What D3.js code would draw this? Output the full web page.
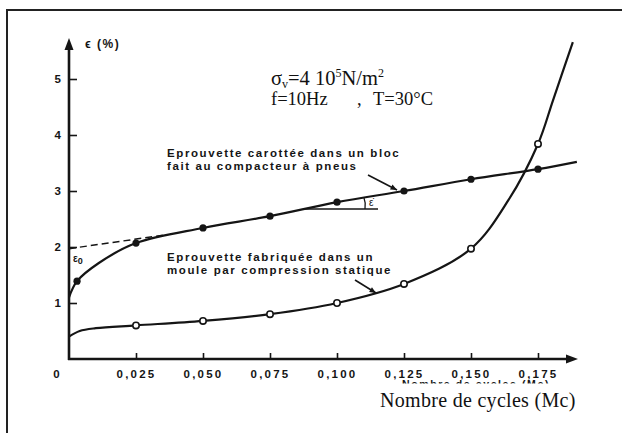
<!DOCTYPE html>
<html>
<head>
<meta charset="utf-8">
<script src="https://cdn.jsdelivr.net/npm/d3@7"></script>
<style>
  body { margin: 0; background: #fff; }
  svg { display: block; }
  .tick text { font-family: "Liberation Sans", Arial, sans-serif; font-weight: bold; font-size: 11.5px; fill: #151515; }
  .note { font-family: "Liberation Sans", Arial, sans-serif; font-weight: bold; font-size: 12px; fill: #151515; }
  .serif { font-family: "Liberation Serif", "Times New Roman", serif; fill: #111; }
</style>
</head>
<body>
<div id="chart"></div>
<script>
// x = nombre de cycles (Mc), y = deformation (%)
const xTicks = [0, 0.025, 0.05, 0.075, 0.1, 0.125, 0.15, 0.175];
const xTickLabels = ["0", "0,025", "0,050", "0,075", "0,100", "0,125", "0,150", "0,175"];
const yTicks = [1, 2, 3, 4, 5];

// eprouvette carottee (points pleins)
const carotteeCurveX = [0, 0.003, 0.011, 0.025, 0.05, 0.075, 0.1, 0.125, 0.15, 0.175, 0.1895];
const carotteeCurveY = [1.1, 1.39, 1.71, 2.07, 2.34, 2.55, 2.8, 3.0, 3.21, 3.39, 3.52];
const carotteeDotsX = [0.003, 0.025, 0.05, 0.075, 0.1, 0.125, 0.15, 0.175];
const carotteeDotsY = [1.39, 2.07, 2.34, 2.55, 2.8, 3.0, 3.21, 3.39];

// eprouvette fabriquee (points creux)
const fabriqueeCurveX = [0, 0.004, 0.01, 0.025, 0.05, 0.075, 0.1, 0.125, 0.15, 0.164, 0.175, 0.1806, 0.188];
const fabriqueeCurveY = [0.4, 0.5, 0.55, 0.6, 0.68, 0.8, 1.0, 1.34, 1.97, 2.84, 3.84, 4.62, 5.66];
const fabriqueeDotsX = [0.025, 0.05, 0.075, 0.1, 0.125, 0.15, 0.175];
const fabriqueeDotsY = [0.6, 0.68, 0.8, 1.0, 1.34, 1.97, 3.84];

// tangente en pointilles (epsilon0)
const dashX = [0, 0.035];
const dashY = [1.97, 2.21];

const W = 622, H = 433;
const svg = d3.select("#chart").append("svg").attr("width", W).attr("height", H);

// cadre
svg.append("rect")
  .attr("x", 7).attr("y", 10).attr("width", 700).attr("height", 500)
  .attr("fill", "none").attr("stroke", "#222").attr("stroke-width", 2);

const x = d3.scaleLinear().domain([0, 0.175]).range([69, 538]);
const y = d3.scaleLinear().domain([0, 5]).range([359, 79]);

const ink = "#151515";

// axe y
const yAxis = svg.append("g")
  .attr("transform", `translate(${x(0)},0)`)
  .call(d3.axisLeft(y).tickValues(yTicks).tickSizeInner(-8).tickSizeOuter(0).tickPadding(8).tickFormat(d3.format("d")));
yAxis.select(".domain").remove();
yAxis.selectAll(".tick line").attr("stroke", ink).attr("stroke-width", 1.6);

svg.append("line")
  .attr("x1", x(0)).attr("x2", x(0)).attr("y1", y(0) + 1).attr("y2", 46)
  .attr("stroke", ink).attr("stroke-width", 2.6);
svg.append("path")
  .attr("d", `M${x(0)},38 L${x(0) - 4.5},50 L${x(0) + 4.5},50 Z`)
  .attr("fill", ink);

// axe x
const xAxis = svg.append("g")
  .attr("transform", `translate(0,${y(0)})`)
  .call(d3.axisBottom(x).tickValues(xTicks).tickSizeInner(-6).tickSizeOuter(0).tickPadding(11)
    .tickFormat((d, i) => xTickLabels[i]));
xAxis.select(".domain").remove();
xAxis.selectAll(".tick line").attr("stroke", ink).attr("stroke-width", 1.6);
xAxis.selectAll(".tick text").attr("letter-spacing", "2.2px");
xAxis.selectAll(".tick").filter(d => d === 0).select("line").remove();
xAxis.selectAll(".tick").filter(d => d === 0).select("text").attr("x", -12);

svg.append("line")
  .attr("x1", x(0) - 1).attr("x2", 570).attr("y1", y(0)).attr("y2", y(0))
  .attr("stroke", ink).attr("stroke-width", 2.6);
svg.append("path")
  .attr("d", `M578,${y(0)} L566,${y(0) - 4.5} L566,${y(0) + 4.5} Z`)
  .attr("fill", ink);

// courbes
const line = d3.line().x(d => x(d[0])).y(d => y(d[1])).curve(d3.curveCatmullRom.alpha(0.5));

svg.append("path")
  .datum(carotteeCurveX.map((v, i) => [v, carotteeCurveY[i]]))
  .attr("d", line).attr("fill", "none").attr("stroke", ink).attr("stroke-width", 2.2);

svg.append("path")
  .datum(fabriqueeCurveX.map((v, i) => [v, fabriqueeCurveY[i]]))
  .attr("d", line).attr("fill", "none").attr("stroke", ink).attr("stroke-width", 2.2);

svg.append("path")
  .datum(dashX.map((v, i) => [v, dashY[i]]))
  .attr("d", d3.line().x(d => x(d[0])).y(d => y(d[1])))
  .attr("fill", "none").attr("stroke", ink).attr("stroke-width", 1.5)
  .attr("stroke-dasharray", "7,4");

svg.selectAll(".dot-full")
  .data(carotteeDotsX.map((v, i) => [v, carotteeDotsY[i]]))
  .enter().append("circle")
  .attr("class", "dot-full")
  .attr("cx", d => x(d[0])).attr("cy", d => y(d[1])).attr("r", 3.6)
  .attr("fill", ink);

svg.selectAll(".dot-open")
  .data(fabriqueeDotsX.map((v, i) => [v, fabriqueeDotsY[i]]))
  .enter().append("circle")
  .attr("class", "dot-open")
  .attr("cx", d => x(d[0])).attr("cy", d => y(d[1])).attr("r", 3.2)
  .attr("fill", "#fff").attr("stroke", ink).attr("stroke-width", 1.6);

// pente
svg.append("line")
  .attr("x1", 305).attr("x2", 378).attr("y1", 209).attr("y2", 209)
  .attr("stroke", ink).attr("stroke-width", 1.3);
svg.append("path")
  .attr("d", "M365,209 Q366,203 364,198")
  .attr("fill", "none").attr("stroke", ink).attr("stroke-width", 1.3);
svg.append("text").attr("class", "note").attr("x", 369).attr("y", 206)
  .style("font-size", "10px").style("font-weight", "normal").text("ε̇");

svg.append("text").attr("class", "note").attr("x", 73).attr("y", 262)
  .style("font-size", "10px").html("ε<tspan dy='2' font-size='9px'>0</tspan>");

// titre axe y
svg.append("text").attr("class", "note").attr("x", 85).attr("y", 48)
  .attr("letter-spacing", "1.5px").text("ϵ (%)");

// annotations des courbes
const notes = [
  ["Eprouvette carottée dans un bloc", 167, 157],
  ["fait au compacteur à pneus", 167, 170],
  ["Eprouvette fabriquée dans un", 167, 261],
  ["moule par compression statique", 167, 274]
];
svg.selectAll(".lbl").data(notes).enter().append("text")
  .attr("class", "note lbl")
  .attr("x", d => d[1]).attr("y", d => d[2])
  .style("font-size", "11.5px")
  .attr("letter-spacing", "1.6px")
  .text(d => d[0]);

function arrow(x1, y1, x2, y2) {
  svg.append("line").attr("x1", x1).attr("y1", y1).attr("x2", x2).attr("y2", y2)
    .attr("stroke", ink).attr("stroke-width", 1.6);
  const a = Math.atan2(y2 - y1, x2 - x1), L = 7, s = 0.4;
  svg.append("path")
    .attr("d", `M${x2},${y2} L${x2 - L * Math.cos(a - s)},${y2 - L * Math.sin(a - s)} L${x2 - L * Math.cos(a + s)},${y2 - L * Math.sin(a + s)} Z`)
    .attr("fill", ink);
}
arrow(368, 175, 397, 190);
arrow(355, 280, 376, 293);

// conditions d'essai
const cond = svg.append("text").attr("class", "serif").attr("x", 271).attr("y", 85).style("font-size", "20.5px");
cond.append("tspan").text("σ");
cond.append("tspan").attr("dy", 3).style("font-size", "12px").text("v");
cond.append("tspan").attr("dy", -3).text("=4 10");
cond.append("tspan").attr("dy", -8).style("font-size", "12px").text("5");
cond.append("tspan").attr("dy", 8).text("N/m");
cond.append("tspan").attr("dy", -8).style("font-size", "12px").text("2");

const cond2 = svg.append("text").attr("class", "serif").attr("y", 105).style("font-size", "18.5px");
cond2.append("tspan").attr("x", 271).text("f=10Hz");
cond2.append("tspan").attr("x", 357).text(",");
cond2.append("tspan").attr("x", 373).text("T=30°C");

// titre original rogne
svg.append("clipPath").attr("id", "cut").append("rect")
  .attr("x", 380).attr("y", 370).attr("width", 220).attr("height", 13.5);
svg.append("text").attr("class", "note").attr("x", 402).attr("y", 388)
  .attr("clip-path", "url(#cut)").attr("letter-spacing", "1.6px")
  .style("font-size", "10.5px")
  .text("Nombre de cycles (Mc)");

svg.append("text").attr("class", "serif").attr("x", 380).attr("y", 407)
  .style("font-size", "20px").attr("letter-spacing", "0.3px")
  .text("Nombre de cycles (Mc)");
</script>
</body>
</html>
